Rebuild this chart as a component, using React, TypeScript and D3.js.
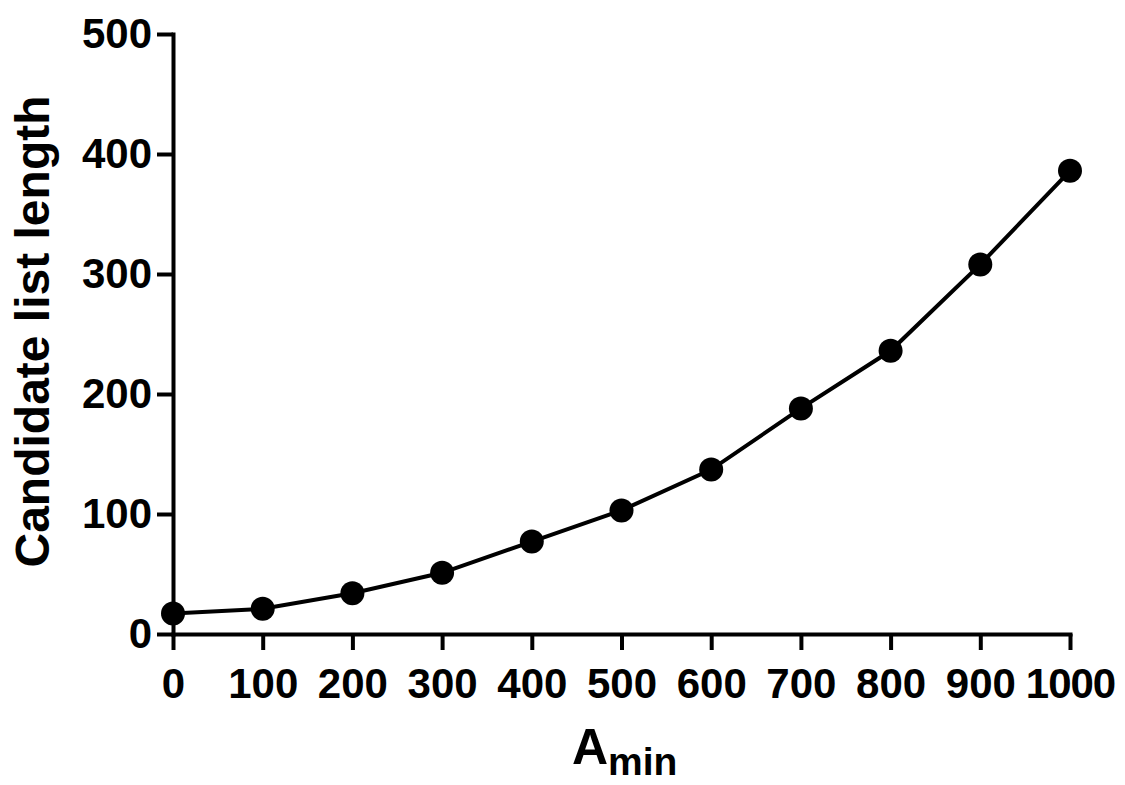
import React, { useEffect, useRef } from 'react';
import * as d3 from 'd3';

const aminValues = [0, 100, 200, 300, 400, 500, 600, 700, 800, 900, 1000];
const listLengths = [17, 21, 34, 51, 77, 103, 137, 188, 236, 308, 386];
const xTicks = [0, 100, 200, 300, 400, 500, 600, 700, 800, 900, 1000];
const yTicks = [0, 100, 200, 300, 400, 500];

export default function App() {
  const ref = useRef<SVGSVGElement>(null);

  useEffect(() => {
    const w = 1125;
    const h = 785;
    const font = '"Liberation Sans", Arial, sans-serif';

    const svg = d3.select(ref.current);
    svg.selectAll('*').remove();

    const x = d3.scaleLinear().domain([0, 1000]).range([173, 1070]);
    const y = d3.scaleLinear().domain([0, 500]).range([634, 34]);

    const gy = svg.append('g')
      .attr('transform', `translate(${x(0)},0)`)
      .call(d3.axisLeft(y).tickValues(yTicks).tickFormat(d3.format('d')).tickSize(16).tickSizeOuter(0).tickPadding(5));

    const gx = svg.append('g')
      .attr('transform', `translate(0,${y(0)})`)
      .call(d3.axisBottom(x).tickValues(xTicks).tickFormat(d3.format('d')).tickSize(16).tickSizeOuter(0).tickPadding(18));

    for (const g of [gx, gy]) {
      g.select('.domain').attr('stroke', '#000').attr('stroke-width', 4).attr('stroke-linecap', 'square');
      g.selectAll('.tick line').attr('stroke', '#000').attr('stroke-width', 4);
      g.selectAll('.tick text')
        .attr('fill', '#000')
        .style('font-family', font)
        .style('font-weight', 'bold')
        .style('font-size', '42px');
    }
    // tighten the 1000 label so it doesn't touch 900
    gx.selectAll('.tick text').attr('letter-spacing', (d: any) => (d === 1000 ? '-1px' : null));

    const line = d3.line<number>()
      .x((d, i) => x(aminValues[i]))
      .y(d => y(d));

    svg.append('path')
      .datum(listLengths)
      .attr('d', line)
      .attr('fill', 'none')
      .attr('stroke', '#000')
      .attr('stroke-width', 4);

    svg.append('g')
      .selectAll('circle')
      .data(listLengths)
      .join('circle')
      .attr('cx', (d, i) => x(aminValues[i]))
      .attr('cy', d => y(d))
      .attr('r', 12)
      .attr('fill', '#000');

    // axis titles
    svg.append('text')
      .attr('transform', `translate(49,${(93 + 570) / 2}) rotate(-90)`)
      .attr('text-anchor', 'middle')
      .style('font-family', font)
      .style('font-weight', 'bold')
      .style('font-size', '48px')
      .text('Candidate list length');

    const xt = svg.append('text')
      .attr('x', 572)
      .attr('y', 764)
      .style('font-family', font)
      .style('font-weight', 'bold')
      .style('font-size', '50px');
    xt.append('tspan').text('A');
    xt.append('tspan').attr('dy', 11).style('font-size', '39px').text('min');

    svg.attr('width', w).attr('height', h);
  }, []);

  return (
    <svg ref={ref} width={1125} height={785}
      style={{ position: 'absolute', left: 0, top: 0, background: '#fff' }} />
  );
}
